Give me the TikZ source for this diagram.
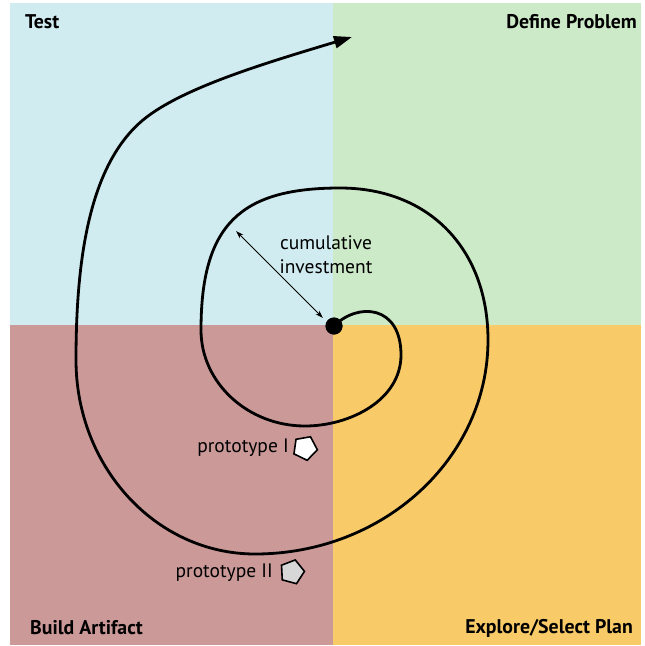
\documentclass[tikz,border=0pt]{standalone}
\usepackage{fontspec}
\setmainfont{PT Sans}
\usetikzlibrary{arrows.meta,shapes.geometric}
\definecolor{qblue}{RGB}{208,236,240}
\definecolor{qgreen}{RGB}{205,234,200}
\definecolor{qred}{RGB}{204,153,153}
\definecolor{qorange}{RGB}{248,202,104}
\definecolor{pgray}{RGB}{215,215,215}
\tikzset{
  corner/.style={font=\bfseries\fontsize{19.8}{22}\selectfont, inner sep=0pt},
  plain/.style={font=\fontsize{19.5}{24}\selectfont, inner sep=0pt},
  spiralline/.style={line width=2.8pt, line cap=round, -{Triangle[length=18pt,width=12pt]}},
  invest/.style={line width=0.9pt, {Stealth[length=8pt,width=5pt]}-{Stealth[length=8pt,width=5pt]}},
  proto/.style={regular polygon, regular polygon sides=5, draw=black, line width=1.6pt, minimum size=25pt, inner sep=0pt}
}
\begin{document}
\begin{tikzpicture}[x=1pt,y=-1pt]
\useasboundingbox (0,0) rectangle (645,646);
\fill[qblue] (10,3) rectangle (333,325);
\fill[qgreen] (333,3) rectangle (641,325);
\fill[qred] (10,325) rectangle (333,645);
\fill[qorange] (333,325) rectangle (641,645);

\node[corner, anchor=west] (test) at (25,22) {Test};
\node[corner, anchor=east] (define) at (637,22) {Define Problem};
\node[corner, anchor=west] (build) at (30,628) {Build Artifact};
\node[corner, anchor=east] (explore) at (633,628) {Explore/Select Plan};

\node[circle, fill=black, minimum size=17pt, inner sep=0pt] (dot) at (334,326) {};
\coordinate (tipend) at (352,37);

\draw[spiralline] (dot.center)
  .. controls (358,302) and (401,305) .. (401,355)
  .. controls (401,400) and (350,426) .. (305,426)
  .. controls (248,426) and (201,383) .. (201,330)
  .. controls (201,225) and (240,188) .. (340,188)
  .. controls (430,188) and (488,250) .. (488,340)
  .. controls (488,458) and (384,554) .. (255,554)
  .. controls (156,554) and (76,467) .. (76,360)
  .. controls (76,260) and (89,165) .. (143,120)
  .. controls (181.5,88) and (265.6,63) .. (tipend);

\node[circle, fill=black, minimum size=17pt, inner sep=0pt] at (dot) {};

\coordinate (ia) at (236,231);
\coordinate (ib) at (323,318);
\draw[invest] (ia) -- (ib);

\node[plain, align=center] (cum) at (326,255) {cumulative\\investment};

\node[plain, anchor=east] (p1) at (289,448) {prototype I};
\node[proto, fill=white, rotate=190] (pent1) at (305,448) {};
\node[plain, anchor=east] (p2) at (273,573) {prototype II};
\node[proto, fill=pgray, rotate=-15] (pent2) at (292,572) {};
\end{tikzpicture}
\end{document}
